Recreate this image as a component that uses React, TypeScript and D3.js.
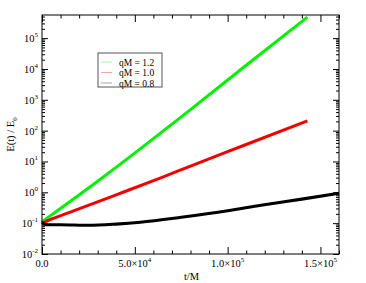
import { useEffect, useRef } from 'react';
import * as d3 from 'd3';

const W = 366, H = 283;
const m = { top: 15, right: 27, bottom: 29, left: 42 };

// t/M, log10(E/E0)
const tGreen = [0, 5e3, 3.2e4, 8e4, 1.1e5, 1.43e5];
const logGreen = [-0.96, -0.74, 0.45, 2.68, 4.12, 5.68];
const tRed = [0, 5e3, 1.7e4, 4e4, 6.4e4, 8e4, 1.1e5, 1.43e5];
const logRed = [-1.0, -0.87, -0.6, -0.08, 0.47, 0.85, 1.55, 2.32];
const tBlack = [0, 2e3, 1e4, 2.5e4, 4e4, 5.3e4, 7.5e4, 1e5, 1.18e5, 1.4e5, 1.6e5];
const logBlack = [-0.97, -1.05, -1.05, -1.07, -1.03, -0.97, -0.81, -0.6, -0.42, -0.22, -0.03];

const xTicks = [0, 5e4, 1e5, 1.5e5];
const xMant = ['0.0', '5.0', '1.0', '1.5'];
const xExp = ['', '4', '5', '5'];
const yDecades = [-2, -1, 0, 1, 2, 3, 4, 5];

const legendLabels = ['qM = 1.2', 'qM = 1.0', 'qM = 0.8'];
const legendColors = ['#a8f5a8', '#f5a8a8', '#a8a8a8'];
const lineColors = ['#00f000', '#f00000', '#000000'];

export default function App() {
  const ref = useRef<SVGSVGElement>(null);

  useEffect(() => {
    const svg = d3.select(ref.current);
    svg.selectAll('*').remove();
    const iw = W - m.left - m.right, ih = H - m.top - m.bottom;
    const x = d3.scaleLinear().domain([0, 1.6e5]).range([0, iw]);
    const y = d3.scaleLog().domain([1e-2, Math.pow(10, 5.75)]).range([ih, 0]);
    const g = svg.append('g').attr('transform', `translate(${m.left},${m.top})`);
    const font = '"Liberation Serif", "Times New Roman", serif';

    // curves
    const series = [
      { t: tGreen, v: logGreen, c: lineColors[0], w: 3 },
      { t: tRed, v: logRed, c: lineColors[1], w: 3 },
      { t: tBlack, v: logBlack, c: lineColors[2], w: 3.1 },
    ];
    const line = d3.line<[number, number]>()
      .x(d => x(d[0])).y(d => y(Math.pow(10, d[1]))).curve(d3.curveMonotoneX);
    series.forEach(s => {
      g.append('path').datum(s.t.map((t, i) => [t, s.v[i]] as [number, number]))
        .attr('fill', 'none').attr('stroke', s.c).attr('stroke-width', s.w)
        .attr('stroke-linejoin', 'round').attr('d', line);
    });

    // frame
    g.append('rect').attr('width', iw).attr('height', ih)
      .attr('fill', 'none').attr('stroke', '#000').attr('stroke-width', 1);

    const styled = (a: any) => {
      a.select('.domain').remove();
      a.selectAll('.tick line').attr('stroke', '#000');
    };
    const xMinor = d3.range(0, 1.6e5 + 1, 1e4).filter(v => v % 5e4 !== 0);
    const yMinor: number[] = [];
    for (let e = -2; e < 6; e++) for (let k = 2; k < 10; k++) {
      const v = k * Math.pow(10, e);
      if (v <= Math.pow(10, 5.75)) yMinor.push(v);
    }
    const yMajor = yDecades.map(e => Math.pow(10, e));

    g.append('g').attr('transform', `translate(0,${ih})`)
      .call(d3.axisBottom(x).tickValues(xTicks).tickSize(-7).tickFormat(() => '')).call(styled);
    g.append('g').attr('transform', `translate(0,${ih})`)
      .call(d3.axisBottom(x).tickValues(xMinor).tickSize(-3.5).tickFormat(() => '')).call(styled);
    g.append('g')
      .call(d3.axisTop(x).tickValues(xTicks).tickSize(-7).tickFormat(() => '')).call(styled);
    g.append('g')
      .call(d3.axisTop(x).tickValues(xMinor).tickSize(-3.5).tickFormat(() => '')).call(styled);
    g.append('g')
      .call(d3.axisLeft(y).tickValues(yMajor).tickSize(-6).tickFormat(() => '')).call(styled);
    g.append('g')
      .call(d3.axisLeft(y).tickValues(yMinor).tickSize(-3).tickFormat(() => '')).call(styled);
    g.append('g').attr('transform', `translate(${iw},0)`)
      .call(d3.axisRight(y).tickValues(yMajor).tickSize(-6).tickFormat(() => '')).call(styled);
    g.append('g').attr('transform', `translate(${iw},0)`)
      .call(d3.axisRight(y).tickValues(yMinor).tickSize(-3).tickFormat(() => '')).call(styled);

    // y labels
    yDecades.forEach(e => {
      const t = g.append('text').attr('x', -4).attr('y', y(Math.pow(10, e)) + 4)
        .attr('text-anchor', 'end').attr('font-family', font).attr('font-size', 10.5);
      t.append('tspan').text('10');
      t.append('tspan').attr('dy', -5).attr('font-size', 7).text(String(e));
    });

    // x labels
    xTicks.forEach((v, i) => {
      const t = g.append('text').attr('x', x(v)).attr('y', ih + 13)
        .attr('text-anchor', 'middle').attr('font-family', font).attr('font-size', 10.5);
      t.append('tspan').text(xExp[i] ? `${xMant[i]}×10` : xMant[i]);
      if (xExp[i]) t.append('tspan').attr('dy', -5).attr('font-size', 7).text(xExp[i]);
    });

    g.append('text').attr('x', iw / 2 + 1).attr('y', ih + 26).attr('text-anchor', 'middle')
      .attr('font-family', font).attr('font-size', 10.5).text('t/M');

    const yl = svg.append('text').attr('transform', `translate(14,${m.top + ih / 2}) rotate(-90)`)
      .attr('text-anchor', 'middle').attr('font-family', font).attr('font-size', 10.5);
    yl.append('tspan').text('E(t) / E');
    yl.append('tspan').attr('dy', 3).attr('font-size', 7).text('0');

    // legend
    const lg = svg.append('g').attr('transform', 'translate(98,53)');
    lg.append('rect').attr('width', 64).attr('height', 34)
      .attr('fill', '#fff').attr('stroke', '#555').attr('stroke-width', 1);
    legendLabels.forEach((l, i) => {
      const yy = 9 + i * 10.5;
      lg.append('line').attr('x1', 3).attr('x2', 14).attr('y1', yy).attr('y2', yy)
        .attr('stroke', legendColors[i]).attr('stroke-width', 1);
      lg.append('text').attr('x', 21).attr('y', yy + 3.5).attr('font-family', font)
        .attr('font-size', 9.5).text(l);
    });
  }, []);

  return (
    <div style={{ position: 'fixed', left: 0, top: 0, width: W, height: H, background: '#fff' }}>
      <svg ref={ref} width={W} height={H} />
    </div>
  );
}
